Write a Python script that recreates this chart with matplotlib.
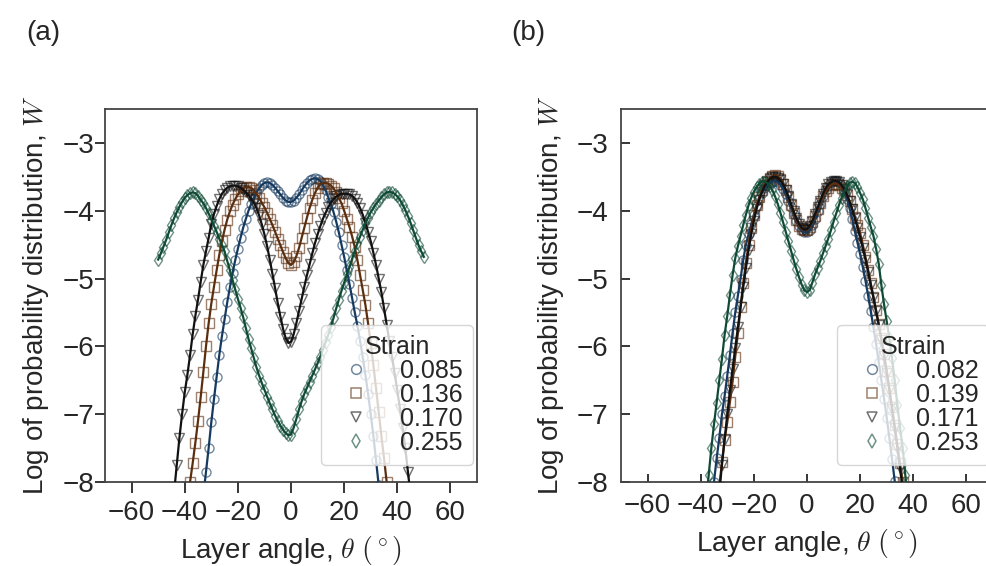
import numpy as np
import matplotlib
matplotlib.use('Agg')
import matplotlib.pyplot as plt
from matplotlib.lines import Line2D

plt.rcParams['font.family'] = ['Liberation Sans', 'DejaVu Sans']
plt.rcParams['mathtext.fontset'] = 'cm'
plt.rcParams['text.color'] = '#262626'
plt.rcParams['axes.labelcolor'] = '#262626'
plt.rcParams['xtick.color'] = '#262626'
plt.rcParams['ytick.color'] = '#262626'

# ---- panel (a) data: log W sampled every 1 degree from the first angle ----
labels_a = ['0.085', '0.136', '0.170', '0.255']
start_a = [-33, -39, -45, -50]
w_a_085 = [-8.2, -7.85, -7.5, -7.12, -6.78, -6.45, -6.13, -5.85, -5.6, -5.35,
           -5.13, -4.92, -4.73, -4.56, -4.4, -4.25, -4.12, -4.0, -3.9, -3.81,
           -3.73, -3.67, -3.62, -3.59, -3.58, -3.59, -3.62, -3.66, -3.71, -3.76,
           -3.81, -3.85, -3.87, -3.87, -3.85, -3.81, -3.76, -3.70, -3.64, -3.59,
           -3.55, -3.53, -3.52, -3.53, -3.56, -3.62, -3.70, -3.80, -3.90, -4.02,
           -4.16, -4.32, -4.50, -4.68, -4.88, -5.08, -5.29, -5.50, -5.70, -5.92,
           -6.16, -6.42, -6.70, -7.0, -7.32, -7.68, -8.05]
w_a_136 = [-8.4, -8.0, -7.72, -7.42, -7.1, -6.75, -6.38, -6.0, -5.66, -5.37,
           -5.12, -4.88, -4.65, -4.45, -4.28, -4.13, -4.01, -3.91, -3.83, -3.76,
           -3.71, -3.67, -3.65, -3.65, -3.66, -3.70, -3.75, -3.81, -3.88, -3.95,
           -4.03, -4.12, -4.21, -4.31, -4.41, -4.51, -4.61, -4.70, -4.77, -4.80,
           -4.76, -4.67, -4.55, -4.40, -4.25, -4.10, -3.96, -3.84, -3.74, -3.66,
           -3.61, -3.59, -3.59, -3.60, -3.63, -3.67, -3.73, -3.81, -3.89, -4.0,
           -4.12, -4.24, -4.38, -4.54, -4.73, -4.95, -5.17, -5.39, -5.66, -5.95,
           -6.28, -6.62, -6.97, -7.32, -7.65, -8.0, -8.4]
w_a_170 = [-8.5, -8.15, -7.75, -7.35, -7.0, -6.68, -6.42, -6.13, -5.82, -5.55,
           -5.31, -5.05, -4.80, -4.6, -4.4, -4.2, -4.05, -3.93, -3.83, -3.75,
           -3.70, -3.66, -3.64, -3.63, -3.63, -3.64, -3.66, -3.69, -3.73, -3.77,
           -3.82, -3.88, -3.96, -4.07, -4.2, -4.35, -4.52, -4.72, -4.93, -5.14,
           -5.36, -5.56, -5.74, -5.88, -5.95, -5.93, -5.82, -5.66, -5.48, -5.3,
           -5.12, -4.95, -4.79, -4.63, -4.48, -4.35, -4.23, -4.12, -4.03, -3.95,
           -3.88, -3.83, -3.79, -3.77, -3.75, -3.75, -3.75, -3.76, -3.78, -3.82,
           -3.88, -3.96, -4.06, -4.18, -4.31, -4.45, -4.62, -4.8, -5.0, -5.2,
           -5.44, -5.68, -5.92, -6.15, -6.4, -6.65, -6.92, -7.2, -7.5, -7.85,
           -8.2]
w_a_255 = [-4.72, -4.63, -4.53, -4.43, -4.32, -4.21, -4.11, -4.02, -3.94, -3.87,
           -3.81, -3.77, -3.74, -3.73, -3.74, -3.78, -3.84, -3.89, -3.96, -4.04,
           -4.13, -4.22, -4.31, -4.41, -4.5, -4.6, -4.74, -4.88, -5.02, -5.16,
           -5.3, -5.43, -5.57, -5.73, -5.89, -6.03, -6.17, -6.31, -6.43, -6.54,
           -6.64, -6.74, -6.84, -6.93, -7.02, -7.1, -7.17, -7.23, -7.28, -7.31,
           -7.3, -7.2, -7.07, -6.93, -6.81, -6.7, -6.61, -6.52, -6.43, -6.34,
           -6.25, -6.15, -6.05, -5.94, -5.83, -5.71, -5.58, -5.44, -5.31, -5.18,
           -5.06, -4.94, -4.83, -4.71, -4.59, -4.48, -4.38, -4.28, -4.18, -4.10,
           -4.02, -3.96, -3.90, -3.85, -3.80, -3.76, -3.73, -3.72, -3.73, -3.75,
           -3.79, -3.84, -3.91, -3.99, -4.08, -4.18, -4.29, -4.40, -4.51, -4.6,
           -4.68]

# ---- panel (b) data ----
labels_b = ['0.082', '0.139', '0.171', '0.253']
start_b = [-36, -34, -34, -38]
w_b_082 = [-8.35, -8.0, -7.65, -7.35, -7.0, -6.73, -6.43, -6.12, -5.8, -5.5,
           -5.25, -5.0, -4.73, -4.5, -4.35, -4.2, -4.06, -3.93, -3.83, -3.74,
           -3.67, -3.62, -3.59, -3.57, -3.56, -3.58, -3.62, -3.68, -3.76, -3.85,
           -3.95, -4.05, -4.15, -4.23, -4.29, -4.32, -4.32, -4.28, -4.21, -4.12,
           -4.01, -3.9, -3.79, -3.7, -3.63, -3.58, -3.56, -3.56, -3.58, -3.63,
           -3.71, -3.82, -3.96, -4.12, -4.3, -4.47, -4.64, -4.83, -5.03, -5.25,
           -5.48, -5.72, -5.97, -6.23, -6.5, -6.77, -7.05, -7.35, -7.66, -7.98,
           -8.3]
w_b_139 = [-8.5, -8.08, -7.7, -7.38, -7.12, -6.82, -6.52, -6.15, -5.8, -5.42,
           -5.07, -4.77, -4.5, -4.26, -4.07, -3.92, -3.8, -3.7, -3.62, -3.56,
           -3.52, -3.49, -3.48, -3.49, -3.53, -3.6, -3.69, -3.8, -3.92, -4.04,
           -4.14, -4.22, -4.27, -4.29, -4.28, -4.24, -4.17, -4.08, -3.98, -3.88,
           -3.79, -3.71, -3.66, -3.62, -3.6, -3.6, -3.62, -3.66, -3.7, -3.77,
           -3.86, -3.97, -4.09, -4.21, -4.33, -4.5, -4.68, -4.87, -5.07, -5.27,
           -5.47, -5.67, -5.88, -6.11, -6.36, -6.62, -6.89, -7.16, -7.44, -7.72,
           -8.0, -8.3]
w_b_171 = [-8.6, -8.15, -7.75, -7.37, -7.0, -6.65, -6.33, -6.02, -5.72, -5.42,
           -5.13, -4.85, -4.58, -4.35, -4.15, -3.98, -3.84, -3.73, -3.64, -3.58,
           -3.53, -3.5, -3.5, -3.51, -3.55, -3.61, -3.69, -3.79, -3.9, -4.01,
           -4.11, -4.19, -4.25, -4.28, -4.27, -4.22, -4.15, -4.05, -3.95, -3.85,
           -3.75, -3.67, -3.61, -3.58, -3.56, -3.56, -3.58, -3.62, -3.68, -3.76,
           -3.86, -3.98, -4.11, -4.25, -4.39, -4.55, -4.72, -4.9, -5.09, -5.28,
           -5.48, -5.69, -5.91, -6.14, -6.39, -6.65, -6.93, -7.21, -7.5, -7.8,
           -8.1]
w_b_253 = [-8.3, -7.9, -7.5, -7.15, -6.83, -6.5, -6.18, -5.83, -5.55, -5.24,
           -4.95, -4.7, -4.52, -4.37, -4.21, -4.06, -3.92, -3.81, -3.72, -3.65,
           -3.6, -3.57, -3.57, -3.59, -3.63, -3.7, -3.79, -3.9, -4.03, -4.17,
           -4.31, -4.45, -4.59, -4.73, -4.86, -4.98, -5.09, -5.17, -5.2, -5.17,
           -5.06, -4.94, -4.84, -4.74, -4.63, -4.52, -4.41, -4.29, -4.16, -4.04,
           -3.92, -3.81, -3.72, -3.64, -3.59, -3.57, -3.59, -3.65, -3.74, -3.83,
           -3.96, -4.1, -4.24, -4.37, -4.56, -4.78, -5.1, -5.38, -5.63, -5.88,
           -6.17, -6.5, -6.86, -7.2, -7.5, -7.9, -8.3]

line_colors = ['#163a5f', '#5c2e0e', '#111111', '#0f4a35']
markers = ['o', 's', 'v', 'd']
x_ticks = [-60, -40, -20, 0, 20, 40, 60]
y_ticks = [-8, -7, -6, -5, -4, -3]


def draw_panel(ax, series, starts, labels, tick_dir):
    for (i, w) in enumerate(series):
        theta = starts[i] + np.arange(len(w))
        c = matplotlib.colors.to_rgba(line_colors[i], 0.6)
        ax.plot(theta, w, ls='none', marker=markers[i], ms=6.5, mfc='none',
                mec=c, mew=1.0, zorder=2)
        ax.plot(theta, w, color=line_colors[i], lw=1.6, zorder=3)
    ax.set_xlim(-70, 70)
    ax.set_ylim(-8, -2.5)
    ax.set_xticks(x_ticks)
    ax.set_yticks(y_ticks)
    ax.set_xticklabels([f'\u2212{abs(t)}' if t < 0 else str(t) for t in x_ticks])
    ax.set_yticklabels([f'\u2212{abs(t)}' for t in y_ticks])
    if tick_dir == 'out':
        ax.tick_params(axis='x', direction='out', length=8, width=1.3, pad=5, labelsize=20)
        ax.tick_params(axis='y', direction='out', length=7, width=1.3, pad=1, labelsize=20)
    else:
        ax.tick_params(axis='x', direction='in', length=6, width=1.3, pad=8, labelsize=20)
        ax.tick_params(axis='y', direction='in', length=6.5, width=1.3, pad=9, labelsize=20)
    for sp in ax.spines.values():
        sp.set_color('#444444')
        sp.set_linewidth(1.3)
    ax.set_xlabel(r'Layer angle, $\theta\ (^\circ)$', fontsize=20, labelpad=6)
    ax.set_ylabel(r'Log of probability distribution, $W$', fontsize=20, labelpad=8)
    handles = [Line2D([], [], ls='none', marker=markers[i], ms=7, mfc='none',
                      mec=matplotlib.colors.to_rgba(line_colors[i], 0.6), mew=1.1)
               for i in range(len(series))]
    leg = ax.legend(handles, labels, title='Strain', loc='lower right',
                    bbox_to_anchor=(0.989, 0.046), borderaxespad=0, fontsize=18,
                    title_fontsize=18, frameon=True, framealpha=0.8,
                    edgecolor='#cccccc', fancybox=True, labelspacing=0.0,
                    handletextpad=0.75, borderpad=0.4)
    leg.get_frame().set_linewidth(1.0)


fig = plt.figure(figsize=(9.86, 5.66), dpi=100)
ax_a = fig.add_axes([0.1065, 0.1484, 0.3773, 0.659])
ax_b = fig.add_axes([0.6298, 0.1484, 0.3773, 0.659])

draw_panel(ax_a, [w_a_085, w_a_136, w_a_170, w_a_255], start_a, labels_a, 'out')
draw_panel(ax_b, [w_b_082, w_b_139, w_b_171, w_b_253], start_b, labels_b, 'in')

fig.text(0.027, 0.942, '(a)', fontsize=20, va='center', ha='left')
fig.text(0.519, 0.942, '(b)', fontsize=20, va='center', ha='left')

fig.savefig('out.png', dpi=100)
